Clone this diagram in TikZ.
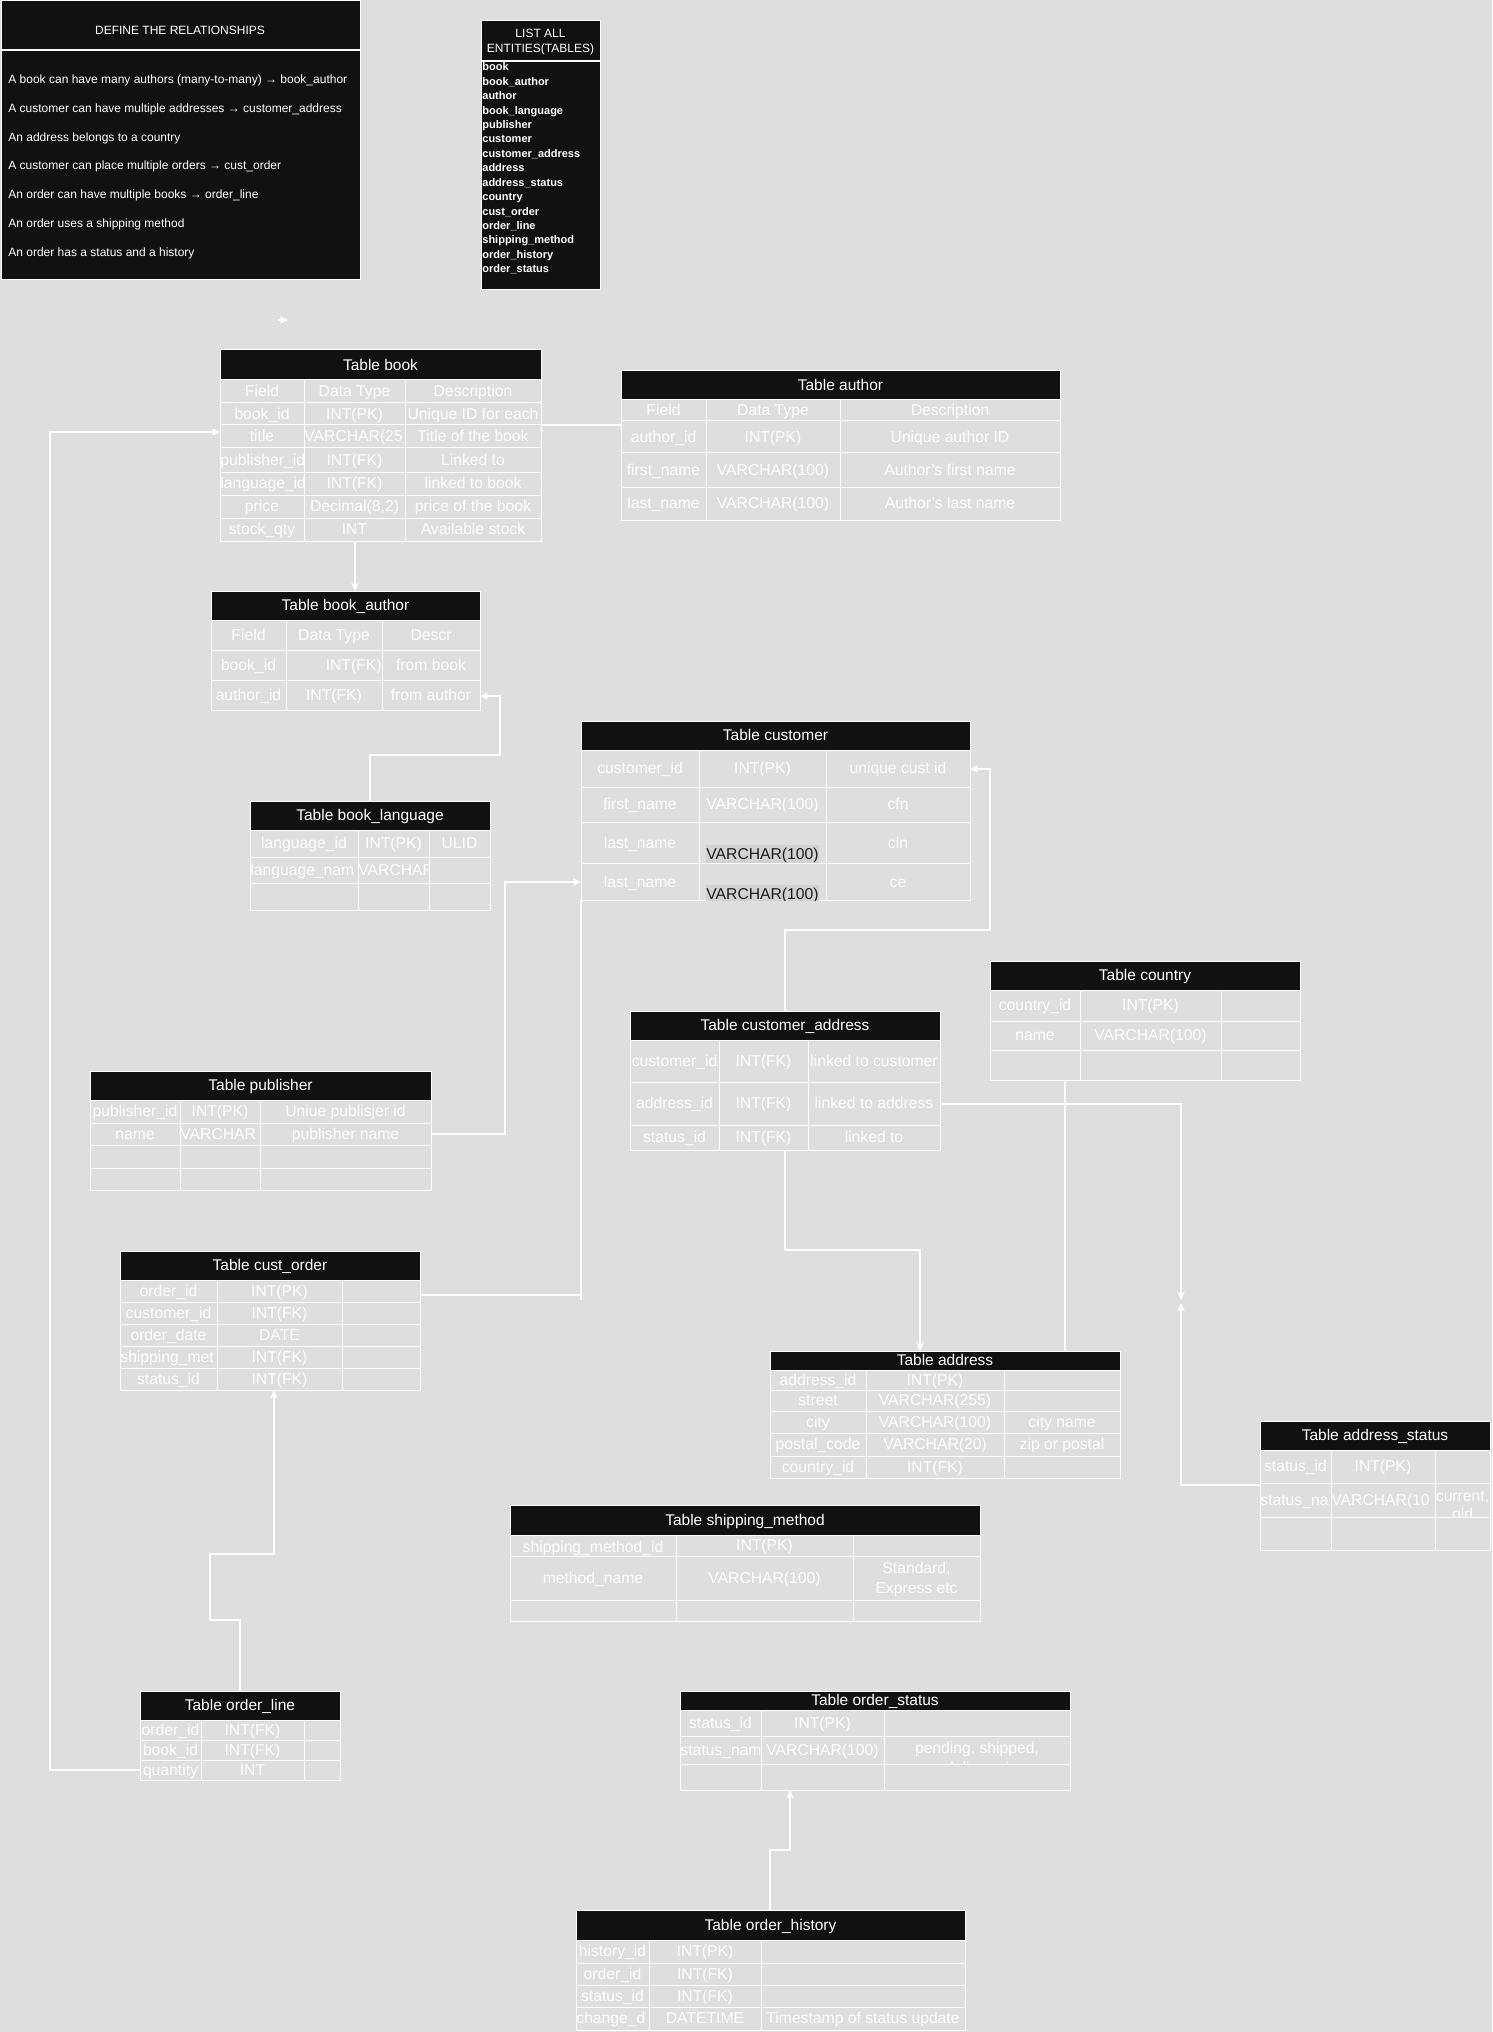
\documentclass[tikz,border=0pt]{standalone}
\usepackage{fontspec}
\setmainfont{Liberation Sans}
\usetikzlibrary{fit,arrows.meta}
\definecolor{bgc}{HTML}{DEDEDE}
\definecolor{hdr}{HTML}{111111}
\definecolor{darktxt}{HTML}{1A1A1A}
\definecolor{hilite}{HTML}{D2D2D2}
\newcounter{cellno}
\tikzset{
  grid/.style={draw=white, line width=0.5pt},
  celltext/.style={text=white, font=\fontsize{7.85}{9.4}\selectfont, inner sep=0pt, text height=7.1pt, text depth=1.66pt},
  hdrtext/.style={text=white, font=\fontsize{7.75}{9.3}\selectfont, inner sep=0pt, text height=7.0pt, text depth=1.64pt},
  darkcell/.style={text=darktxt, fill=hilite},
  conn/.style={draw=white, line width=0.7pt},
  arr/.style={-{Stealth[length=4pt,width=3.6pt,inset=0.8pt]}},
  reltext/.style={text=white, font=\fontsize{6}{7}\selectfont, inner sep=0pt, anchor=west, text height=5.43pt, text depth=1.27pt},
  listtext/.style={text=white, font=\fontsize{5.5}{6.5}\selectfont\bfseries, inner sep=0pt, anchor=west, text height=4.98pt, text depth=1.17pt},
  boxhead/.style={text=white, font=\fontsize{6}{7}\selectfont, inner sep=0pt, text height=5.43pt, text depth=1.27pt},
}
% table frame: name, L, T, R, header bottom, bottom, title
\newcommand\ertable[7]{%
  \node[fit={(#2,#3)(#4,#6)}, inner sep=0pt, draw=white, line width=0.5pt] (#1) {};
  \node[fit={(#2,#3)(#4,#5)}, inner sep=0pt, fill=hdr, draw=white, line width=0.5pt] (#1-h) {};
  \node[hdrtext] (#1-t) at ({(#2+#4)/2},{(#3+#5)/2}) {#7};
}
\newcommand\erh[3]{\foreach \yy in {#3} {\draw[grid] (#1,\yy) -- (#2,\yy);}}
\newcommand\erv[3]{\foreach \xx in {#3} {\draw[grid] (\xx,#1) -- (\xx,#2);}}
\newcommand\cellxy[8]{%
  \begin{scope}
    \clip (#1,#2) rectangle (#3,#4);
    \stepcounter{cellno}%
    \node[celltext,#7] (cell\arabic{cellno}) at ({#5},{#6}) {#8};
  \end{scope}}
\newcommand\cell[5]{\cellxy{#1}{#2}{#3}{#4}{(#1+#3)/2}{(#2+#4)/2}{}{#5}}
\newcommand\cellL[5]{\cellxy{#1}{#2}{#3}{#4}{#1}{(#2+#4)/2}{anchor=west}{#5}}
\newcommand\cellR[5]{\cellxy{#1}{#2}{#3}{#4}{#3}{(#2+#4)/2}{anchor=east}{#5}}

\begin{document}
\begin{tikzpicture}[x=0.5pt,y=-0.5pt]
\fill[bgc] (0,0) rectangle (1492,2032);
\useasboundingbox (0,0) rectangle (1492,2032);

% ---------- DEFINE THE RELATIONSHIPS ----------
\node[fit={(1,1)(360,280)}, inner sep=0pt, fill=hdr, draw=white, line width=0.5pt] (define) {};
\draw[grid, line width=0.75pt] (define.west |- 0,50) -- (define.east |- 0,50);
\node[boxhead] (define-t) at (180,30) {DEFINE THE RELATIONSHIPS};
\node[reltext] (rel1) at (8,79) {A book can have many authors (many-to-many) → book\_author};
\node[reltext] (rel2) at (8,108) {A customer can have multiple addresses → customer\_address};
\node[reltext] (rel3) at (8,137) {An address belongs to a country};
\node[reltext] (rel4) at (8,165) {A customer can place multiple orders → cust\_order};
\node[reltext] (rel5) at (8,194) {An order can have multiple books → order\_line};
\node[reltext] (rel6) at (8,223) {An order uses a shipping method};
\node[reltext] (rel7) at (8,252) {An order has a status and a history};

% ---------- LIST ALL ENTITIES ----------
\node[fit={(481,21)(600,290)}, inner sep=0pt, fill=hdr, draw=white, line width=0.5pt] (list) {};
\draw[grid, line width=0.75pt] (list.west |- 0,61) -- (list.east |- 0,61);
\node[boxhead] (list-t1) at (540.5,33) {LIST ALL};
\node[boxhead] (list-t2) at (540.5,48) {ENTITIES(TABLES)};
\node[listtext] (li1) at (482,67) {book};
\node[listtext] (li2) at (482,81.5) {book\_author};
\node[listtext] (li3) at (482,96) {author};
\node[listtext] (li4) at (482,110.5) {book\_language};
\node[listtext] (li5) at (482,125) {publisher};
\node[listtext] (li6) at (482,139) {customer};
\node[listtext] (li7) at (482,154) {customer\_address};
\node[listtext] (li8) at (482,168) {address};
\node[listtext] (li9) at (482,183) {address\_status};
\node[listtext] (li10) at (482,197) {country};
\node[listtext] (li11) at (482,211.5) {cust\_order};
\node[listtext] (li12) at (482,226) {order\_line};
\node[listtext] (li13) at (482,240) {shipping\_method};
\node[listtext] (li14) at (482,254.5) {order\_history};
\node[listtext] (li15) at (482,269) {order\_status};

% stray arrow
\coordinate (stray-a) at (278,320);
\coordinate (stray-b) at (288,320);
\draw[conn,arr] (stray-a) -- (stray-b);

% ---------- Table book ----------
\ertable{book}{220}{350}{541}{380}{541}{Table book}
\erh{220}{541}{403,425,448,472,495,518}
\erv{380}{541}{304,405}
\cell{220}{380}{304}{403}{Field}\cell{304}{380}{405}{403}{Data Type}\cell{405}{380}{541}{403}{Description}
\cell{220}{403}{304}{425}{book\_id}\cell{304}{403}{405}{425}{INT(PK)}\cell{405}{403}{541}{425}{Unique ID for each}
\cell{220}{425}{304}{448}{title}\cellL{304}{425}{405}{448}{VARCHAR(25}\cell{405}{425}{541}{448}{Title of the book}
\cellL{220}{448}{304}{472}{publisher\_id}\cell{304}{448}{405}{472}{INT(FK)}\cell{405}{448}{541}{472}{Linked to}
\cellL{220}{472}{304}{495}{language\_id}\cell{304}{472}{405}{495}{INT(FK)}\cell{405}{472}{541}{495}{linked to book}
\cell{220}{495}{304}{518}{price}\cell{304}{495}{405}{518}{Decimal(8,2)}\cell{405}{495}{541}{518}{price of the book}
\cell{220}{518}{304}{541}{stock\_qty}\cell{304}{518}{405}{541}{INT}\cell{405}{518}{541}{541}{Available stock}

% ---------- Table author ----------
\ertable{author}{621}{371}{1060}{400}{520}{Table author}
\erh{621}{1060}{421,453,487}
\erv{400}{520}{706,840}
\cell{621}{400}{706}{421}{Field}\cell{706}{400}{840}{421}{Data Type}\cell{840}{400}{1060}{421}{Description}
\cell{621}{421}{706}{453}{author\_id}\cell{706}{421}{840}{453}{INT(PK)}\cell{840}{421}{1060}{453}{Unique author ID}
\cell{621}{453}{706}{487}{first\_name}\cell{706}{453}{840}{487}{VARCHAR(100)}\cell{840}{453}{1060}{487}{Author's first name}
\cell{621}{487}{706}{520}{last\_name}\cell{706}{487}{840}{520}{VARCHAR(100)}\cell{840}{487}{1060}{520}{Author's last name}

% ---------- Table book_author ----------
\ertable{bookauthor}{211}{591}{480}{620}{710}{Table book\_author}
\erh{211}{480}{650,680}
\erv{620}{710}{286,382}
\cell{211}{620}{286}{650}{Field}\cell{286}{620}{382}{650}{Data Type}\cell{382}{620}{480}{650}{Descr}
\cell{211}{650}{286}{680}{book\_id}\cellR{286}{650}{382}{680}{INT(FK)}\cell{382}{650}{480}{680}{from book}
\cell{211}{680}{286}{710}{author\_id}\cell{286}{680}{382}{710}{INT(FK)}\cell{382}{680}{480}{710}{from author}

% ---------- Table book_language ----------
\ertable{booklang}{250}{801}{490}{830}{910}{Table book\_language}
\erh{250}{490}{857,883}
\erv{830}{910}{358,429}
\cell{250}{830}{358}{857}{language\_id}\cell{358}{830}{429}{857}{INT(PK)}\cell{429}{830}{490}{857}{ULID}
\cellL{250}{857}{358}{883}{language\_nam}\cellL{358}{857}{429}{883}{VARCHAR}

% ---------- Table customer ----------
\ertable{customer}{581}{721}{970}{750}{900}{Table customer}
\erh{581}{970}{787,822,863}
\erv{750}{900}{699,826}
\cell{581}{750}{699}{787}{customer\_id}\cell{699}{750}{826}{787}{INT(PK)}\cell{826}{750}{970}{787}{unique cust id}
\cell{581}{787}{699}{822}{first\_name}\cell{699}{787}{826}{822}{VARCHAR(100)}\cell{826}{787}{970}{822}{cfn}
\cellxy{581}{822}{699}{863}{640}{843}{}{last\_name}\cellxy{699}{822}{826}{863}{762.5}{854}{darkcell}{VARCHAR(100)}\cellxy{826}{822}{970}{863}{898}{843}{}{cln}
\cellxy{581}{863}{699}{900}{640}{882}{}{last\_name}\cellxy{699}{863}{826}{900}{762.5}{894}{darkcell}{VARCHAR(100)}\cellxy{826}{863}{970}{900}{898}{882}{}{ce}

% ---------- Table customer_address ----------
\ertable{custaddr}{630}{1011}{940}{1040}{1150}{Table customer\_address}
\erh{630}{940}{1082,1125}
\erv{1040}{1150}{719,808}
\cell{630}{1040}{719}{1082}{customer\_id}\cell{719}{1040}{808}{1082}{INT(FK)}\cell{808}{1040}{940}{1082}{linked to customer}
\cell{630}{1082}{719}{1125}{address\_id}\cell{719}{1082}{808}{1125}{INT(FK)}\cell{808}{1082}{940}{1125}{linked to address}
\cell{630}{1125}{719}{1150}{status\_id}\cell{719}{1125}{808}{1150}{INT(FK)}\cell{808}{1125}{940}{1150}{linked to}

% ---------- Table country ----------
\ertable{country}{990}{961}{1300}{990}{1080}{Table country}
\erh{990}{1300}{1021,1050}
\erv{990}{1080}{1080,1221}
\cell{990}{990}{1080}{1021}{country\_id}\cell{1080}{990}{1221}{1021}{INT(PK)}
\cell{990}{1021}{1080}{1050}{name}\cell{1080}{1021}{1221}{1050}{VARCHAR(100)}

% ---------- Table publisher ----------
\ertable{publisher}{90}{1071}{431}{1100}{1190}{Table publisher}
\erh{90}{431}{1123,1145,1168}
\erv{1100}{1190}{180,260}
\cell{90}{1100}{180}{1123}{publisher\_id}\cell{180}{1100}{260}{1123}{INT(PK)}\cell{260}{1100}{431}{1123}{Uniue publisjer id}
\cell{90}{1123}{180}{1145}{name}\cellL{180}{1123}{260}{1145}{VARCHAR}\cell{260}{1123}{431}{1145}{publisher name}

% ---------- Table cust_order ----------
\ertable{custorder}{120}{1251}{420}{1280}{1390}{Table cust\_order}
\erh{120}{420}{1302,1324,1346,1368}
\erv{1280}{1390}{217,342}
\cell{120}{1280}{217}{1302}{order\_id}\cell{217}{1280}{342}{1302}{INT(PK)}
\cell{120}{1302}{217}{1324}{customer\_id}\cell{217}{1302}{342}{1324}{INT(FK)}
\cell{120}{1324}{217}{1346}{order\_date}\cell{217}{1324}{342}{1346}{DATE}
\cellL{120}{1346}{217}{1368}{shipping\_met}\cell{217}{1346}{342}{1368}{INT(FK)}
\cell{120}{1368}{217}{1390}{status\_id}\cell{217}{1368}{342}{1390}{INT(FK)}

% ---------- Table address ----------
\ertable{address}{770}{1351}{1120}{1370}{1478}{Table address}
\erh{770}{1120}{1390,1411,1433,1456}
\erv{1370}{1478}{866,1004}
\cell{770}{1370}{866}{1390}{address\_id}\cell{866}{1370}{1004}{1390}{INT(PK)}
\cell{770}{1390}{866}{1411}{street}\cell{866}{1390}{1004}{1411}{VARCHAR(255)}
\cell{770}{1411}{866}{1433}{city}\cell{866}{1411}{1004}{1433}{VARCHAR(100)}\cell{1004}{1411}{1120}{1433}{city name}
\cell{770}{1433}{866}{1456}{postal\_code}\cell{866}{1433}{1004}{1456}{VARCHAR(20)}\cell{1004}{1433}{1120}{1456}{zip or postal}
\cell{770}{1456}{866}{1478}{country\_id}\cell{866}{1456}{1004}{1478}{INT(FK)}

% ---------- Table address_status ----------
\ertable{addrstatus}{1260}{1421}{1490}{1450}{1550}{Table address\_status}
\erh{1260}{1490}{1483,1517}
\erv{1450}{1550}{1331,1435}
\cell{1260}{1450}{1331}{1483}{status\_id}\cell{1331}{1450}{1435}{1483}{INT(PK)}
\cellL{1260}{1483}{1331}{1517}{status\_na}\cellL{1331}{1483}{1435}{1517}{VARCHAR(10}
\cellxy{1435}{1483}{1490}{1517}{1462.5}{1496}{}{current,}\cellxy{1435}{1483}{1490}{1517}{1462.5}{1514}{}{old}

% ---------- Table shipping_method ----------
\ertable{shipping}{510}{1505}{980}{1535}{1621}{Table shipping\_method}
\erh{510}{980}{1556,1600}
\erv{1535}{1621}{676,853}
\cellxy{510}{1535}{676}{1556}{593}{1547}{}{shipping\_method\_id}\cell{676}{1535}{853}{1556}{INT(PK)}
\cell{510}{1556}{676}{1600}{method\_name}\cell{676}{1556}{853}{1600}{VARCHAR(100)}
\cellxy{853}{1556}{980}{1600}{916.5}{1568}{}{Standard,}\cellxy{853}{1556}{980}{1600}{916.5}{1588}{}{Express etc}

% ---------- Table order_status ----------
\ertable{orderstatus}{680}{1691}{1070}{1710}{1790}{Table order\_status}
\erh{680}{1070}{1736,1764}
\erv{1710}{1790}{761,884}
\cell{680}{1710}{761}{1736}{status\_id}\cell{761}{1710}{884}{1736}{INT(PK)}
\cellL{680}{1736}{761}{1764}{status\_nam}\cell{761}{1736}{884}{1764}{VARCHAR(100)}
\cellxy{884}{1736}{1070}{1764}{977}{1748}{}{pending, shipped,}\cellxy{884}{1736}{1070}{1764}{977}{1768}{}{delivered}

% ---------- Table order_line ----------
\ertable{orderline}{140}{1691}{340}{1720}{1780}{Table order\_line}
\erh{140}{340}{1740,1760}
\erv{1720}{1780}{201,304}
\cell{140}{1720}{201}{1740}{order\_id}\cell{201}{1720}{304}{1740}{INT(FK)}
\cell{140}{1740}{201}{1760}{book\_id}\cell{201}{1740}{304}{1760}{INT(FK)}
\cell{140}{1760}{201}{1780}{quantity}\cell{201}{1760}{304}{1780}{INT}

% ---------- Table order_history ----------
\ertable{orderhistory}{576}{1910}{965}{1940}{2030}{Table order\_history}
\erh{576}{965}{1963,1985,2007}
\erv{1940}{2030}{649,761}
\cell{576}{1940}{649}{1963}{history\_id}\cell{649}{1940}{761}{1963}{INT(PK)}
\cell{576}{1963}{649}{1985}{order\_id}\cell{649}{1963}{761}{1985}{INT(FK)}
\cell{576}{1985}{649}{2007}{status\_id}\cell{649}{1985}{761}{2007}{INT(FK)}
\cellL{576}{2007}{649}{2030}{change\_d}\cell{649}{2007}{761}{2030}{DATETIME}\cell{761}{2007}{965}{2030}{Timestamp of status update}

% ---------- Connectors ----------
\coordinate (book-r) at (541,425);
\coordinate (author-l) at (621,425);
\draw[conn, line width=1pt] (book-r) -- (author-l);

\coordinate (book-b) at (355,541);
\coordinate (ba-t) at (355,591);
\draw[conn,arr] (book-b) -- (ba-t);

\coordinate (bl-t) at (370,801);
\coordinate (ba-r) at (480,696);
\draw[conn,arr] (bl-t) -- (370,755) -- (500,755) -- (500,696) -- (ba-r);

\coordinate (pub-r) at (431,1134);
\coordinate (cust-l) at (581,882);
\draw[conn,arr] (pub-r) -- (505,1134) -- (505,882) -- (cust-l);

\coordinate (co-r) at (420,1295);
\coordinate (cust-bl) at (581,900);
\draw[conn] (co-r) -- (581,1295) -- (cust-bl);
\draw[conn] (581,1295) -- (581,1300);

\coordinate (ca-t) at (785,1011);
\coordinate (cust-r) at (970,769);
\draw[conn,arr] (ca-t) -- (785,930) -- (990,930) -- (990,769) -- (cust-r);

\coordinate (ctry-b) at (1065,1080);
\coordinate (addr-t1) at (1065,1351);
\draw[conn, line width=1pt] (ctry-b) -- (addr-t1);

\coordinate (ca-r) at (940,1104);
\coordinate (meet1) at (1181,1300);
\draw[conn,arr] (ca-r) -- (1181,1104) -- (meet1);

\coordinate (as-l) at (1260,1485);
\coordinate (meet2) at (1181,1303);
\draw[conn,arr] (as-l) -- (1181,1485) -- (meet2);

\coordinate (ca-b) at (785,1150);
\coordinate (addr-t2) at (920,1351);
\draw[conn,arr] (ca-b) -- (785,1250) -- (920,1250) -- (addr-t2);

\coordinate (ol-t) at (240,1691);
\coordinate (co-b) at (274,1390);
\draw[conn,arr] (ol-t) -- (240,1620) -- (210,1620) -- (210,1554) -- (274,1554) -- (co-b);

\coordinate (ol-l) at (140,1770);
\coordinate (book-l) at (220,432);
\draw[conn,arr] (ol-l) -- (50,1770) -- (50,432) -- (book-l);

\coordinate (oh-t) at (770,1910);
\coordinate (os-b) at (790,1790);
\draw[conn,arr] (oh-t) -- (770,1850) -- (790,1850) -- (os-b);
\end{tikzpicture}
\end{document}
